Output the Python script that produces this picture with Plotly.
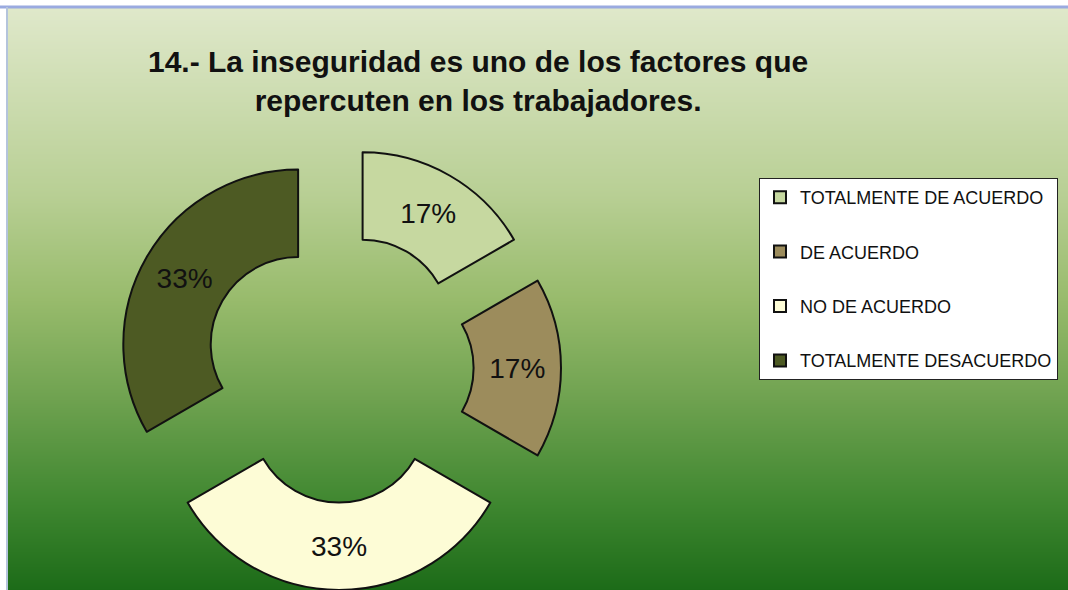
import plotly.graph_objects as go

# survey answers for question 14
labels = ["TOTALMENTE DE ACUERDO", "DE ACUERDO", "NO DE ACUERDO", "TOTALMENTE DESACUERDO"]
values = [1, 1, 2, 2]
colors = ["#c6d8a0", "#9c8c5c", "#fdfcd6", "#4d5a23"]

title = "14.- La inseguridad es uno de los factores que<br>repercuten en los trabajadores."

W, H = 1068, 590
FONT = "Liberation Sans, Arial, sans-serif"

fig = go.Figure()

# background gradient (light green at top, dark green at bottom)
bg_scale = [
    [0.0, "#1c6b18"],
    [0.15, "#3f8730"],
    [0.33, "#6fa250"],
    [0.5, "#98bb6c"],
    [0.68, "#b8cf94"],
    [1.0, "#dfe8ca"],
]
fig.add_trace(go.Heatmap(
    z=[[0, 0], [1, 1]], x=[0, 1], y=[0, 1],
    colorscale=bg_scale, zsmooth="best", showscale=False,
    hoverinfo="skip",
))

# exploded donut
fig.add_trace(go.Pie(
    labels=labels, values=values,
    marker=dict(colors=colors, line=dict(color="#111111", width=2)),
    hole=0.5, pull=0.27, sort=False, direction="clockwise", rotation=0,
    texttemplate="%{percent:.0%}", textposition="inside",
    insidetextorientation="horizontal",
    textfont=dict(family=FONT, size=28, color="#111111"),
    domain=dict(x=[(339 - 222) / W, (339 + 222) / W],
                y=[(H - 368 - 222) / H, (H - 368 + 222) / H]),
    showlegend=False,
))

# legend entries (separate groups so the rows get the original spacing)
for lab, col in zip(labels, colors):
    fig.add_trace(go.Scatter(
        x=[None], y=[None], mode="markers", name=lab, legendgroup=lab,
        marker=dict(symbol="square", size=12, color=col,
                    line=dict(color="#111111", width=2)),
    ))

fig.update_layout(
    width=W, height=H,
    margin=dict(l=0, r=0, t=0, b=0, autoexpand=False),
    paper_bgcolor="white",
    plot_bgcolor="rgba(0,0,0,0)",
    xaxis=dict(domain=[8 / W, 1], range=[0, 1], visible=False, fixedrange=True),
    yaxis=dict(domain=[0, 1 - 8 / H], range=[0, 1], visible=False, fixedrange=True),
    legend=dict(
        x=759 / W, y=1 - 178 / H, xanchor="left", yanchor="top",
        bgcolor="white", bordercolor="#222222", borderwidth=1,
        font=dict(family=FONT, size=18, color="#111111"),
        tracegroupgap=28, itemsizing="constant",
    ),
    annotations=[dict(
        text="<b>" + title + "</b>", x=478 / W, y=1 - 81 / H,
        xref="paper", yref="paper", showarrow=False,
        xanchor="center", yanchor="middle",
        font=dict(family=FONT, size=30, color="#111111"),
        align="center",
    )],
    shapes=[
        dict(type="line", xref="paper", yref="paper",
             x0=0, x1=1, y0=1 - 7 / H, y1=1 - 7 / H,
             line=dict(color="#9aaae0", width=3)),
        dict(type="line", xref="paper", yref="paper",
             x0=7 / W, x1=7 / W, y0=0, y1=1 - 7 / H,
             line=dict(color="#b4c4dc", width=2)),
    ],
)

# no default page margin, so the figure sits at the window's top-left corner
fig.write_html("out.html", config={"displayModeBar": False},
               post_script="document.body.style.margin='0';"
                           "document.body.style.overflow='hidden';")
